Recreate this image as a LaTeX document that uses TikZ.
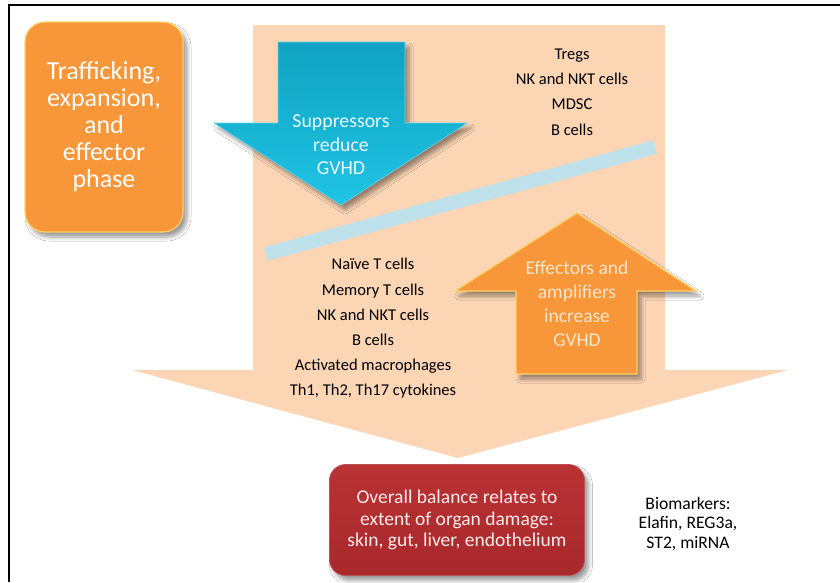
\documentclass[tikz,border=0pt]{standalone}
\usepackage{fontspec}
\setmainfont{Carlito}
\usetikzlibrary{shadows.blur}
\definecolor{peach}{RGB}{252,213,180}
\definecolor{orangeF}{RGB}{248,150,58}
\definecolor{orangeE}{RGB}{253,210,100}
\definecolor{cyanT}{RGB}{16,162,194}
\definecolor{cyanB}{RGB}{32,196,228}
\definecolor{barblue}{RGB}{190,225,235}
\definecolor{redbox}{RGB}{168,40,44}
\definecolor{redtop}{RGB}{185,50,52}
\begin{document}
\begin{tikzpicture}[x=1pt,y=-1pt,
  shad/.style={blur shadow={shadow xshift=4pt, shadow yshift=-5pt, shadow blur steps=6, shadow opacity=40, shadow blur radius=4pt}},
  listtxt/.style={font=\fontsize{16.5}{25.2}\selectfont, align=center, text=black, inner sep=0pt},
  obox/.style={shad, fill=orangeF, draw=orangeE, line width=1.2pt, rounded corners=20pt, minimum width=158pt, minimum height=210pt, align=center, text=white, font=\fontsize{26}{27}\selectfont},
  rbox/.style={shad, top color=redtop, bottom color=redbox, draw=redbox!80!white, line width=0.8pt, rounded corners=16pt, minimum width=255pt, minimum height=111pt, align=center, text=white!92!red, font=\fontsize{19.5}{21.5}\selectfont},
  arrtxt/.style={align=center, inner sep=0pt},
]
\useasboundingbox (0,0) rectangle (840,582);
\fill[white] (0,0) rectangle (840,582);
\draw[line width=2pt] (9,582) -- (9,5) -- (840,5);

% big peach arrow
\fill[peach] (253,25) -- (665,25) -- (665,370) -- (788,370) -- (458,458) -- (132,370) -- (253,370) -- cycle;

% diagonal bar
\draw[barblue, line width=14pt] (266,254) -- (655,147);

% cyan down arrow
\path[shad, top color=cyanT, bottom color=cyanB, draw=cyanB!70!white, line width=0.6pt]
  (278,42) -- (405,42) -- (405,123) -- (467,123) -- (341,205) -- (214,123) -- (278,123) -- cycle;
\node[arrtxt, text=white!92!cyan, font=\fontsize{19.8}{23.5}\selectfont] (supp) at (341,145) {Suppressors\\reduce\\GVHD};

% orange up arrow
\path[shad, fill=orangeF, draw=orangeE, line width=1.2pt]
  (516,374) -- (637,374) -- (637,291) -- (696,291) -- (577,213) -- (455,291) -- (516,291) -- cycle;
\node[arrtxt, text=white!80!orange, font=\fontsize{19.5}{24}\selectfont] (eff) at (577,304) {Effectors and\\amplifiers\\increase\\GVHD};

% lists
\node[listtxt] (supplist) at (572,92) {Tregs\\NK and NKT cells\\MDSC\\B cells};
\node[listtxt] (efflist) at (373,328.5) {Naïve T cells\\Memory T cells\\NK and NKT cells\\B cells\\Activated macrophages\\Th1, Th2, Th17 cytokines};

% orange phase box
\node[obox] (phase) at (104,127) {Trafficking,\\expansion,\\and\\effector\\phase};

% red box
\node[rbox] (balance) at (457,520) {Overall balance relates to\\extent of organ damage:\\skin, gut, liver, endothelium};

% biomarkers
\node[align=center, inner sep=0pt, font=\fontsize{17.6}{19.5}\selectfont] (bio) at (688,524) {Biomarkers:\\Elafin, REG3a,\\ST2, miRNA};
\end{tikzpicture}
\end{document}
